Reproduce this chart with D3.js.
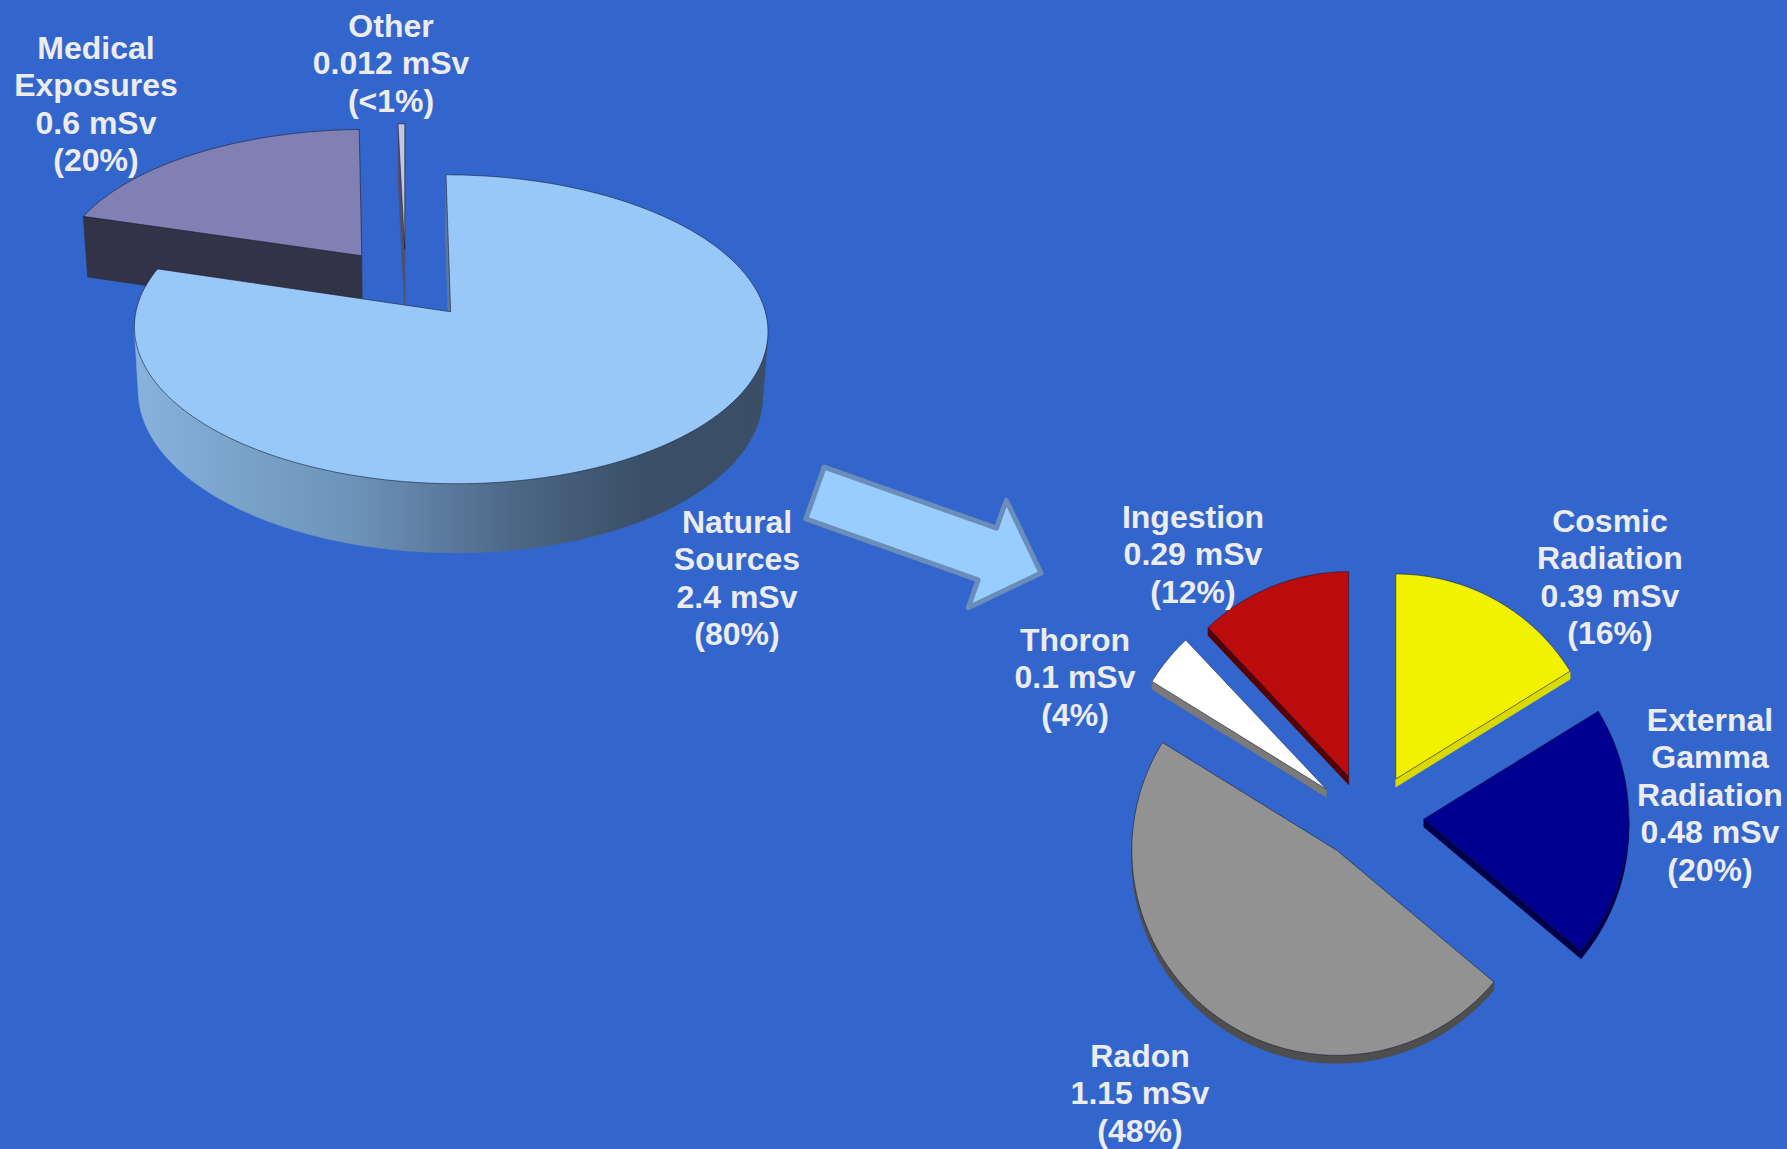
<!DOCTYPE html>
<html><head><meta charset="utf-8">
<script src="https://cdn.jsdelivr.net/npm/d3@7"></script>
<style>html,body{margin:0;padding:0;background:#3366CC;overflow:hidden}svg{display:block}</style>
</head><body>
<svg id="chart" width="1787" height="1149"></svg>
<script>
// ---------------- data ----------------
const mainCategories = ["Natural Sources", "Medical Exposures", "Other"];
const mainNameLines = [["Natural", "Sources"], ["Medical", "Exposures"], ["Other"]];
const mainValues = [2.4, 0.6, 0.012];
const mainPercentLabels = ["80%", "20%", "<1%"];

const naturalCategories = ["Cosmic Radiation", "External Gamma Radiation", "Radon", "Thoron", "Ingestion"];
const naturalNameLines = [["Cosmic", "Radiation"], ["External", "Gamma", "Radiation"], ["Radon"], ["Thoron"], ["Ingestion"]];
const naturalValues = [0.39, 0.48, 1.15, 0.1, 0.29];
const naturalPercentLabels = ["16%", "20%", "48%", "4%", "12%"];
const unit = "mSv";

// ---------------- styles / layout ----------------
const BG = "#3366CC";
const mainTopColors = ["#97C8F8", "#8080B4", "#C4C4E4"];
const mainSideColors = ["url(#natSide)", "#333347", "#50506C"];
const natTopColors = ["#F2F200", "#000090", "#929292", "#FFFFFF", "#BA0C0C"];
const natSideColors = ["#DADA00", "#00004A", "#4E4E4E", "#7A7A7A", "#550000"];

const mainLabelPos = [[737, 521], [96, 47], [391, 25]];
const natLabelPos = [[1610, 520], [1710, 719], [1140, 1055], [1075, 639], [1193, 516]];

const bigView = {cx: 405.6, cy: 283, F: 2442, D: 7.93, tilt: 28.3, explode: 0.24, explodeQ: 1, height: 0.235};
const smallView = {cx: 1369, cy: 816, r: 205, depth: 8, explode: 55 / 205, explodeQ: 0.77, height: 1};

const arrowSpec = {tail: [815, 493], tip: [1041, 573], shaftW: 55, headW: 114, headL: 57};

// ---------------- helpers ----------------
const svg = d3.select("#chart");
svg.append("rect").attr("width", 1787).attr("height", 1149).attr("fill", BG);
const defs = svg.append("defs");

function perspective(p) {
  const a = Math.sin(p.tilt * Math.PI / 180), b = Math.cos(p.tilt * Math.PI / 180);
  return (X, Y, Z) => {
    const d = p.D - Y * a - Z * b;
    return [p.cx + p.F * X / d, p.cy - p.F * (Y * b - Z * a) / d];
  };
}
function ortho(p) {
  return (X, Y, Z) => [p.cx + p.r * X, p.cy + p.r * Z - Y * p.depth];
}
function area(pts) {
  let s = 0;
  for (let i = 0; i < pts.length; i++) {
    const [x1, y1] = pts[i], [x2, y2] = pts[(i + 1) % pts.length];
    s += x1 * y2 - x2 * y1;
  }
  return s / 2;
}
const lineGen = d3.line();

function drawPie(g, values, proj, view, tops, sides) {
  const arcs = d3.pie().sort(null).value(d => d).startAngle(0).endAngle(2 * Math.PI)(values);
  const H = view.height;
  const items = arcs.map((a, i) => {
    const m = (a.startAngle + a.endAngle) / 2;
    return {a, i, ax: view.explode * Math.sin(m), az: -view.explode * view.explodeQ * Math.cos(m)};
  }).sort((u, v) => u.az - v.az);

  items.forEach(({a, i, ax, az}) => {
    const rim = (t, Y) => proj(ax + Math.sin(t), Y, az - Math.cos(t));
    const apex = Y => proj(ax, Y, az);
    const span = a.endAngle - a.startAngle;
    const n = Math.max(3, Math.ceil(span / (Math.PI / 360)));
    const ts = d3.range(n + 1).map(k => a.startAngle + span * k / n);
    const gs = g.append("g").attr("class", "slice");
    const sideStyle = sel => sel.attr("fill", sides[i]).attr("stroke", sides[i]).attr("stroke-width", 0.6).attr("stroke-linejoin", "round");

    // radial cut faces
    const f1 = [apex(0), rim(a.startAngle, 0), rim(a.startAngle, -H), apex(-H)];
    const f2 = [apex(0), apex(-H), rim(a.endAngle, -H), rim(a.endAngle, 0)];
    [f1, f2].forEach(f => { if (area(f) < -0.5) gs.append("path").attr("d", lineGen(f) + "Z").call(sideStyle); });

    // outer curved side, visible runs
    let run = [];
    const flush = () => {
      if (run.length) {
        const k0 = run[0], k1 = run[run.length - 1] + 1;
        const topPts = d3.range(k0, k1 + 1).map(k => rim(ts[k], 0));
        const botPts = d3.range(k1, k0 - 1, -1).map(k => rim(ts[k], -H));
        gs.append("path").attr("d", lineGen(topPts.concat(botPts)) + "Z").call(sideStyle);
      }
      run = [];
    };
    for (let k = 0; k < n; k++) {
      const q = [rim(ts[k], 0), rim(ts[k + 1], 0), rim(ts[k + 1], -H), rim(ts[k], -H)];
      if (area(q) < 0) run.push(k); else flush();
    }
    flush();

    // top face
    const topPoly = [apex(0)].concat(ts.map(t => rim(t, 0)));
    gs.append("path").attr("d", lineGen(topPoly) + "Z")
      .attr("fill", tops[i]).attr("stroke", "rgba(20,20,40,0.55)").attr("stroke-width", 1).attr("stroke-linejoin", "round");
  });
}

// gradient for the big slice side
const bigProj = perspective(bigView);
const grad = defs.append("linearGradient").attr("id", "natSide")
  .attr("gradientUnits", "userSpaceOnUse").attr("x1", 137).attr("y1", 0).attr("x2", 767).attr("y2", 0);
[["0%", "#86B2DC"], ["35%", "#6C92B8"], ["62%", "#4A6482"], ["80%", "#3B5068"], ["100%", "#3A4E66"]]
  .forEach(([o, c]) => grad.append("stop").attr("offset", o).attr("stop-color", c));

drawPie(svg.append("g"), mainValues, bigProj, bigView, mainTopColors, mainSideColors);
drawPie(svg.append("g"), naturalValues, ortho(smallView), smallView, natTopColors, natSideColors);

// ---------------- arrow ----------------
(function () {
  const {tail, tip, shaftW, headW, headL} = arrowSpec;
  const dx = tip[0] - tail[0], dy = tip[1] - tail[1], L = Math.hypot(dx, dy);
  const ux = dx / L, uy = dy / L, px = -uy, py = ux;
  const P = (s, w) => [tail[0] + ux * s + px * w, tail[1] + uy * s + py * w];
  const pts = [P(0, -shaftW / 2), P(L - headL, -shaftW / 2), P(L - headL, -headW / 2), P(L, 0),
    P(L - headL, headW / 2), P(L - headL, shaftW / 2), P(0, shaftW / 2)];
  svg.append("path").attr("d", lineGen(pts) + "Z").attr("fill", "#99CCFF")
    .attr("stroke", "#6B8DB9").attr("stroke-width", 5).attr("stroke-linejoin", "round");
})();

// ---------------- labels ----------------
function drawLabels(names, values, pcts, pos) {
  names.forEach((lines, i) => {
    const all = lines.concat([`${values[i]} ${unit}`, `(${pcts[i]})`]);
    const t = svg.append("text").attr("text-anchor", "middle")
      .attr("font-family", "'Liberation Sans', Arial, sans-serif").attr("font-weight", "bold")
      .attr("font-size", 32).attr("fill", "#ECECEC");
    all.forEach((s, k) => t.append("tspan").attr("x", pos[i][0]).attr("y", pos[i][1] + 11.5 + k * 37.6).text(s));
  });
}
drawLabels(mainNameLines, mainValues, mainPercentLabels, mainLabelPos);
drawLabels(naturalNameLines, naturalValues, naturalPercentLabels, natLabelPos);
</script>
</body></html>
